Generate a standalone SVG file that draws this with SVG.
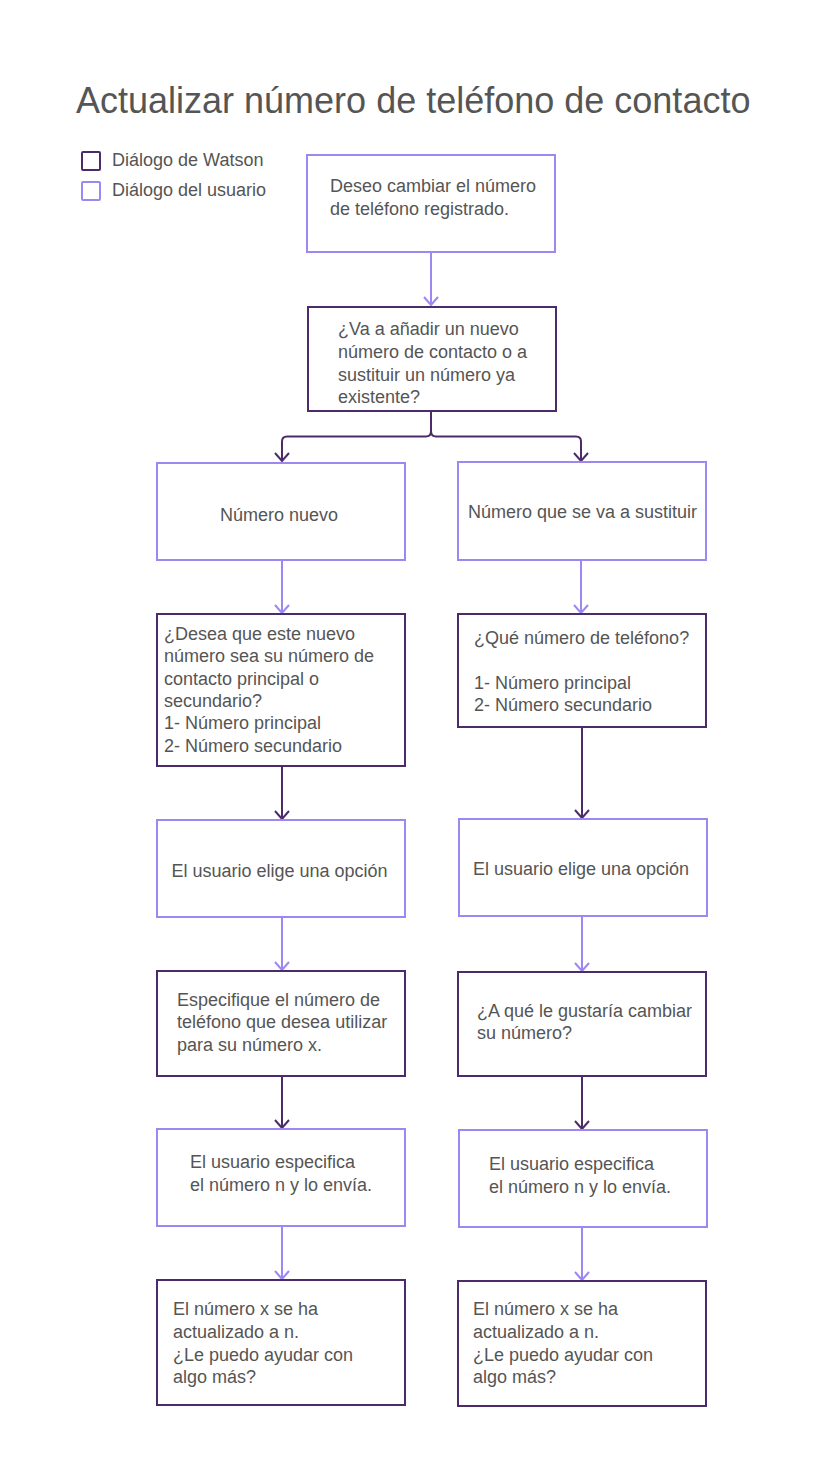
<svg xmlns="http://www.w3.org/2000/svg" width="825" height="1460" viewBox="0 0 825 1460">
<defs>
<style>
text{font-family:"Liberation Sans",Arial,sans-serif;font-size:18px;fill:#555555}
.title{font-size:36px;fill:#555555}
.w{fill:#ffffff;stroke:#4b2c68;stroke-width:2}
.u{fill:#ffffff;stroke:#9d87f2;stroke-width:2}
.cw{fill:none;stroke:#4b2c68;stroke-width:2}
.cu{fill:none;stroke:#9d87f2;stroke-width:2}
.m{text-anchor:middle}
</style>
<marker id="aw" viewBox="0 0 12 16" refX="10" refY="8" markerWidth="12" markerHeight="16" markerUnits="userSpaceOnUse" orient="auto">
<path d="M2,1 L10,8 L2,15" fill="none" stroke="#4b2c68" stroke-width="2"/>
</marker>
<marker id="au" viewBox="0 0 12 16" refX="10" refY="8" markerWidth="12" markerHeight="16" markerUnits="userSpaceOnUse" orient="auto">
<path d="M2,1 L10,8 L2,15" fill="none" stroke="#9d87f2" stroke-width="2"/>
</marker>
</defs>
<rect width="825" height="1460" fill="#ffffff"/>
<text class="title" x="76" y="113">Actualizar número de teléfono de contacto</text>
<g id="legend">
<rect class="w" x="82" y="152" width="18" height="18" rx="1"/>
<text x="112" y="166">Diálogo de Watson</text>
<rect class="u" x="82" y="182" width="18" height="18" rx="1"/>
<text x="112" y="196">Diálogo del usuario</text>
</g>
<g id="connectors">
<path class="cu" d="M431,253 V305" marker-end="url(#au)"/>
<path class="cw" d="M431,412 V431 Q431,436.5 426,436.5 H287 Q282,436.5 282,441.5 V461" marker-end="url(#aw)"/>
<path class="cw" d="M431,431 Q431,436.5 436,436.5 H576 Q581,436.5 581,441.5 V461" marker-end="url(#aw)"/>
<path class="cu" d="M282,561 V613" marker-end="url(#au)"/>
<path class="cw" d="M282,767 V819" marker-end="url(#aw)"/>
<path class="cu" d="M282,918 V970" marker-end="url(#au)"/>
<path class="cw" d="M282,1077 V1128" marker-end="url(#aw)"/>
<path class="cu" d="M282,1227 V1279" marker-end="url(#au)"/>
<path class="cu" d="M581,561 V613" marker-end="url(#au)"/>
<path class="cw" d="M582,728 V818" marker-end="url(#aw)"/>
<path class="cu" d="M582,917 V971" marker-end="url(#au)"/>
<path class="cw" d="M582,1077 V1129" marker-end="url(#aw)"/>
<path class="cu" d="M582,1228 V1280" marker-end="url(#au)"/>
</g>
<g id="n1">
<rect class="u" x="307" y="155" width="248" height="97"/>
<text x="330" y="192">Deseo cambiar el número</text>
<text x="330" y="215">de teléfono registrado.</text>
</g>
<g id="n2">
<rect class="w" x="308" y="307" width="248" height="104"/>
<text x="338" y="335">¿Va a añadir un nuevo</text>
<text x="338" y="358">número de contacto o a</text>
<text x="338" y="381">sustituir un número ya</text>
<text x="338" y="403">existente?</text>
</g>
<g id="l1">
<rect class="u" x="157" y="463" width="248" height="97"/>
<text class="m" x="279" y="521">Número nuevo</text>
</g>
<g id="r1">
<rect class="u" x="458" y="462" width="248" height="98"/>
<text class="m" x="582.5" y="518">Número que se va a sustituir</text>
</g>
<g id="l2">
<rect class="w" x="157" y="614" width="248" height="152"/>
<text x="164" y="640">¿Desea que este nuevo</text>
<text x="164" y="662">número sea su número de</text>
<text x="164" y="685">contacto principal o</text>
<text x="164" y="707">secundario?</text>
<text x="164" y="729">1- Número principal</text>
<text x="164" y="752">2- Número secundario</text>
</g>
<g id="r2">
<rect class="w" x="458" y="614" width="248" height="113"/>
<text x="474" y="644">¿Qué número de teléfono?</text>
<text x="474" y="689">1- Número principal</text>
<text x="474" y="711">2- Número secundario</text>
</g>
<g id="l3">
<rect class="u" x="157" y="820" width="248" height="97"/>
<text class="m" x="279.5" y="877">El usuario elige una opción</text>
</g>
<g id="r3">
<rect class="u" x="459" y="819" width="248" height="97"/>
<text class="m" x="581" y="875">El usuario elige una opción</text>
</g>
<g id="l4">
<rect class="w" x="157" y="971" width="248" height="105"/>
<text x="177" y="1006">Especifique el número de</text>
<text x="177" y="1028">teléfono que desea utilizar</text>
<text x="177" y="1051">para su número x.</text>
</g>
<g id="r4">
<rect class="w" x="458" y="972" width="248" height="104"/>
<text x="477" y="1017">¿A qué le gustaría cambiar</text>
<text x="477" y="1039">su número?</text>
</g>
<g id="l5">
<rect class="u" x="157" y="1129" width="248" height="97"/>
<text x="190" y="1168">El usuario especifica</text>
<text x="190" y="1191">el número n y lo envía.</text>
</g>
<g id="r5">
<rect class="u" x="459" y="1130" width="248" height="97"/>
<text x="489" y="1170">El usuario especifica</text>
<text x="489" y="1193">el número n y lo envía.</text>
</g>
<g id="l6">
<rect class="w" x="157" y="1280" width="248" height="125"/>
<text x="173" y="1315">El número x se ha</text>
<text x="173" y="1338">actualizado a n.</text>
<text x="173" y="1361">¿Le puedo ayudar con</text>
<text x="173" y="1383">algo más?</text>
</g>
<g id="r6">
<rect class="w" x="458" y="1281" width="248" height="125"/>
<text x="473" y="1315">El número x se ha</text>
<text x="473" y="1338">actualizado a n.</text>
<text x="473" y="1361">¿Le puedo ayudar con</text>
<text x="473" y="1383">algo más?</text>
</g>
</svg>
